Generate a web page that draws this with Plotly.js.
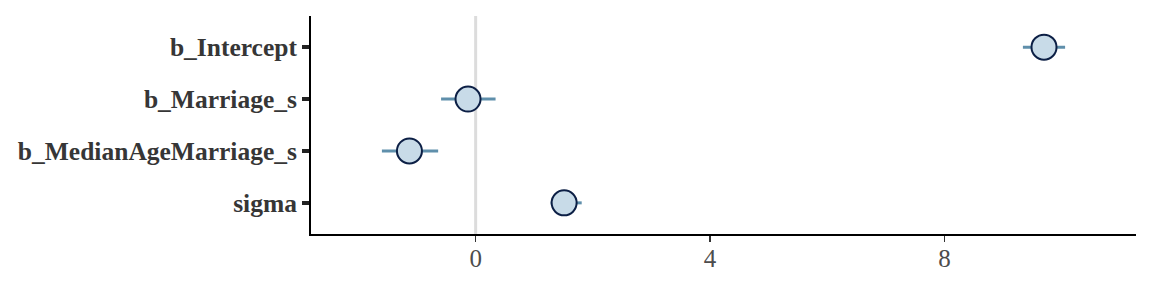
<!DOCTYPE html>
<html>
<head>
<meta charset="utf-8">
<script src="https://cdn.plot.ly/plotly-3.0.1.min.js"></script>
<style>html,body{margin:0;padding:0;background:#fff;}#chart{width:1152px;height:288px;}</style>
</head>
<body>
<div id="chart"></div>
<script>
// Parameters (top to bottom in the picture)
const params = ["b_Intercept", "b_Marriage_s", "b_MedianAgeMarriage_s", "sigma"];
const medians = [9.70, -0.13, -1.13, 1.51];
const lowOuter = [9.34, -0.59, -1.60, 1.28];
const highOuter = [10.06, 0.34, -0.64, 1.81];
const lowInner = [9.58, -0.28, -1.29, 1.42];
const highInner = [9.82, 0.02, -0.96, 1.61];
const xTicks = [0, 4, 8];

const FONT = "Liberation Serif";

// numeric y positions: first param at top
const n = params.length;
const ypos = params.map((p, i) => n - i);

const traces = [];
// zero reference line
traces.push({
  x: [0, 0], y: [0.4, 4.6], mode: 'lines', type: 'scatter',
  line: {color: '#dcdcdc', width: 3}, hoverinfo: 'skip', showlegend: false
});
// intervals
params.forEach((p, i) => {
  traces.push({
    x: [lowOuter[i], highOuter[i]], y: [ypos[i], ypos[i]], mode: 'lines', type: 'scatter',
    line: {color: '#5f8fab', width: 3}, showlegend: false, hoverinfo: 'skip'
  });
  traces.push({
    x: [lowInner[i], highInner[i]], y: [ypos[i], ypos[i]], mode: 'lines', type: 'scatter',
    line: {color: '#3d6f8e', width: 5}, showlegend: false, hoverinfo: 'skip'
  });
});
// points
traces.push({
  x: medians, y: ypos, mode: 'markers', type: 'scatter', showlegend: false,
  marker: {size: 25, color: '#c8dbe8', line: {color: '#0c1f45', width: 2}}
});

const layout = {
  width: 1152, height: 288,
  margin: {l: 311, r: 16, t: 16, b: 54},
  paper_bgcolor: '#ffffff', plot_bgcolor: '#ffffff',
  showlegend: false,
  font: {family: FONT},
  xaxis: {
    range: [-2.81, 11.27], tickvals: xTicks, ticktext: xTicks.map(String),
    showgrid: false, zeroline: false, showline: true, linecolor: '#000', linewidth: 2,
    ticks: 'outside', ticklen: 6, tickwidth: 1.5, tickcolor: '#333',
    ticklabelstandoff: -5,
    tickfont: {family: FONT, size: 25, color: '#4d4d4d'},
    fixedrange: true
  },
  yaxis: {
    range: [0.4, 4.6], tickvals: ypos, ticktext: params,
    showgrid: false, zeroline: false, showline: true, linecolor: '#000', linewidth: 2,
    ticks: 'outside', ticklen: 7, tickwidth: 4, tickcolor: '#222',
    tickfont: {family: FONT, size: 25.5, color: '#363636', weight: 'bold'},
    fixedrange: true
  }
};

Plotly.newPlot('chart', traces, layout, {displayModeBar: false, staticPlot: true});
</script>
</body>
</html>
